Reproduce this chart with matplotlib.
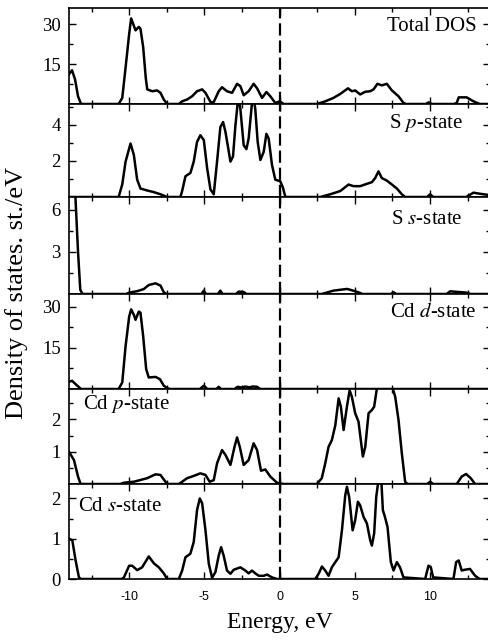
import numpy as np
import matplotlib
matplotlib.use("Agg")
import matplotlib.pyplot as plt
from matplotlib.ticker import FixedLocator, NullFormatter

plt.rcParams['axes.unicode_minus'] = False

# ---------------- data ----------------
e_total = [-14.0, -13.8, -13.6, -13.4, -13.2, -10.7, -10.46, -10.24, -10.0, -9.87,
           -9.7, -9.58, -9.36, -9.25, -9.07, -8.9, -8.8, -8.47, -8.14, -7.92,
           -7.7, -7.48, -6.7, -6.48, -6.15, -5.82, -5.49, -5.15, -4.93, -4.6,
           -4.4, -4.05, -3.83, -3.5, -3.16, -2.83, -2.61, -2.39, -2.06, -1.73,
           -1.5, -1.17, -0.88, -0.62, -0.29, 0.0, 0.27, 2.48, 3.03, 3.58,
           4.03, 4.54, 4.8, 5.02, 5.35, 5.69, 6.02, 6.24, 6.5, 6.79,
           7.12, 7.46, 7.9, 8.23, 8.4, 9.7, 9.9, 10.1, 11.6, 11.77,
           11.9, 12.43, 12.88, 13.3, 14.0]
dos_total = [11.2, 12.7, 9.3, 2.9, 0.0, 0.0, 2.3, 13.7, 26.4, 32.2,
             29.6, 27.7, 29.0, 28.3, 21.4, 9.9, 5.5, 4.8, 5.1, 4.2,
             1.7, 0.0, 0.0, 1.0, 1.7, 2.9, 4.8, 5.5, 4.2, 0.8,
             0.5, 4.8, 6.3, 4.8, 4.2, 7.6, 6.7, 3.3, 4.8, 7.6,
             5.9, 2.3, 4.5, 2.9, 0.4, 1.0, 0.0, 0.0, 1.0, 2.3,
             3.8, 5.9, 4.8, 5.1, 3.6, 4.6, 4.8, 5.5, 7.6, 7.0,
             7.6, 5.1, 2.9, 0.4, 0.0, 0.0, 0.6, 0.0, 0.0, 0.4,
             2.5, 2.5, 1.0, 0.0, 0.0]

e_sp = [-14.0, -10.7, -10.46, -10.24, -9.91, -9.69, -9.47, -9.25, -8.8, -8.36,
        -7.92, -7.48, -6.6, -6.48, -6.26, -5.93, -5.71, -5.49, -5.27, -5.04,
        -4.82, -4.6, -4.38, -4.16, -3.94, -3.76, -3.6, -3.27, -3.1, -2.94,
        -2.79, -2.72, -2.61, -2.39, -2.21, -2.06, -1.84, -1.75, -1.62, -1.46,
        -1.28, -1.06, -0.88, -0.73, -0.51, -0.29, 0.04, 0.22, 0.38, 2.7,
        3.36, 4.03, 4.58, 4.91, 5.35, 5.8, 6.13, 6.35, 6.57, 6.79,
        7.12, 7.46, 7.79, 8.12, 8.34, 9.8, 10.0, 10.2, 12.4, 12.88,
        13.3, 14.0]
dos_sp = [0.0, 0.0, 0.7, 1.96, 2.96, 2.33, 0.96, 0.47, 0.36, 0.27,
          0.15, 0.0, 0.0, 0.33, 1.15, 1.33, 1.96, 3.05, 3.42, 3.15,
          1.6, 0.42, 0.15, 1.96, 3.87, 4.15, 3.6, 1.96, 2.24, 3.96,
          5.2, 5.5, 4.87, 2.87, 2.65, 3.24, 5.2, 5.6, 4.87, 3.05,
          2.05, 2.5, 3.5, 3.24, 1.78, 0.96, 0.87, 0.51, 0.0, 0.0,
          0.15, 0.33, 0.69, 0.6, 0.6, 0.73, 0.82, 1.05, 1.42, 1.05,
          0.91, 0.69, 0.47, 0.15, 0.0, 0.0, 0.15, 0.0, 0.0, 0.24,
          0.18, 0.1]

e_ss = [-14.0, -13.6, -13.4, -13.25, -13.1, -10.2, -10.0, -9.47, -9.03, -8.7,
        -8.25, -7.92, -7.7, -7.5, -5.2, -5.04, -4.9, -4.1, -3.94, -3.8,
        -2.9, -2.72, -2.39, -2.2, 2.8, 3.58, 4.47, 4.69, 5.24, 5.5,
        7.4, 7.57, 7.75, 11.1, 11.33, 12.4, 12.7, 14.0]
dos_ss = [14.0, 7.5, 3.0, 0.3, 0.0, 0.0, 0.1, 0.2, 0.35, 0.64,
          0.76, 0.6, 0.12, 0.0, 0.0, 0.24, 0.0, 0.0, 0.24, 0.0,
          0.0, 0.17, 0.14, 0.0, 0.0, 0.24, 0.36, 0.3, 0.12, 0.0,
          0.0, 0.12, 0.0, 0.0, 0.19, 0.1, 0.0, 0.0]

e_cdd = [-14.0, -13.8, -13.45, -13.2, -10.7, -10.46, -10.24, -10.0, -9.87, -9.69,
         -9.58, -9.36, -9.25, -9.07, -8.87, -8.7, -8.25, -7.96, -7.7, -7.48,
         -7.3, -5.3, -5.04, -4.8, -4.2, -4.05, -3.9, -3.0, -2.8, -2.5,
         -2.3, -2.0, -1.8, -1.5, -1.3, 14.0]
dos_cdd = [2.6, 3.0, 1.2, 0.0, 0.0, 2.4, 15.6, 26.4, 29.0, 27.0,
           25.2, 28.2, 27.8, 19.2, 7.2, 4.2, 4.4, 3.6, 1.2, 0.36,
           0.0, 0.0, 1.2, 0.0, 0.0, 0.8, 0.0, 0.0, 0.8, 0.5,
           0.9, 0.6, 0.9, 0.8, 0.0, 0.0]

e_cdp = [-14.0, -13.67, -13.4, -13.23, -10.6, -10.35, -9.69, -8.8, -8.25, -7.92,
         -7.59, -7.4, -6.7, -6.48, -6.15, -5.71, -5.27, -4.93, -4.65, -4.38,
         -4.16, -3.83, -3.6, -3.27, -3.0, -2.83, -2.65, -2.39, -2.06, -1.73,
         -1.5, -1.24, -0.95, -0.62, -0.18, 0.27, 2.48, 2.8, 3.03, 3.25,
         3.47, 3.7, 3.92, 4.07, 4.25, 4.47, 4.65, 4.8, 5.02, 5.24,
         5.53, 5.69, 5.91, 6.13, 6.28, 6.46, 6.7, 7.0, 7.3, 7.52,
         7.68, 7.9, 8.12, 8.34, 8.5, 9.8, 10.0, 10.2, 11.77, 12.1,
         12.39, 12.7, 12.99, 14.0]
dos_cdp = [1.0, 0.74, 0.23, 0.0, 0.0, 0.04, 0.07, 0.18, 0.3, 0.28,
           0.07, 0.0, 0.0, 0.07, 0.18, 0.25, 0.33, 0.28, 0.07, 0.12,
           0.64, 1.05, 0.9, 0.59, 1.15, 1.44, 1.15, 0.59, 0.74, 1.26,
           1.05, 0.41, 0.45, 0.23, 0.04, 0.0, 0.0, 0.18, 0.64, 1.15,
           1.36, 1.82, 2.65, 2.39, 1.67, 2.39, 2.9, 2.7, 2.19, 1.93,
           0.85, 1.15, 2.19, 2.29, 2.39, 2.95, 3.3, 3.4, 3.2, 2.95,
           2.7, 1.98, 0.95, 0.07, 0.0, 0.0, 0.07, 0.0, 0.0, 0.23,
           0.31, 0.18, 0.0, 0.0]

e_cds = [-14.0, -13.78, -13.56, -13.34, -13.2, -10.5, -10.35, -10.0, -9.8, -9.47,
         -9.14, -8.7, -8.36, -8.03, -7.7, -7.48, -6.7, -6.48, -6.26, -5.93,
         -5.71, -5.49, -5.31, -5.15, -4.93, -4.71, -4.49, -4.27, -4.05, -3.89,
         -3.72, -3.5, -3.27, -3.05, -2.61, -2.28, -2.06, -1.84, -1.62, -1.39,
         -1.06, -0.84, -0.51, -0.18, 2.37, 2.59, 2.81, 3.03, 3.25, 3.47,
         3.7, 3.92, 4.14, 4.36, 4.47, 4.62, 4.85, 5.02, 5.2, 5.35,
         5.58, 5.8, 6.02, 6.13, 6.28, 6.42, 6.6, 6.75, 6.86, 7.0,
         7.17, 7.39, 7.57, 7.79, 8.0, 8.23, 9.67, 9.89, 10.04, 10.2,
         11.55, 11.73, 11.9, 12.1, 12.3, 12.65, 12.99, 13.3, 14.0]
dos_cds = [1.0, 0.96, 0.46, 0.04, 0.0, 0.0, 0.04, 0.33, 0.33, 0.22,
           0.29, 0.56, 0.39, 0.29, 0.14, 0.0, 0.0, 0.21, 0.54, 0.63,
           0.92, 1.71, 2.0, 1.88, 1.21, 0.38, 0.03, 0.17, 0.58, 0.79,
           0.58, 0.21, 0.13, 0.23, 0.29, 0.21, 0.14, 0.21, 0.14, 0.08,
           0.08, 0.11, 0.04, 0.0, 0.0, 0.13, 0.31, 0.21, 0.08, 0.29,
           0.42, 0.54, 1.21, 2.08, 2.29, 2.04, 1.21, 1.46, 1.92, 1.83,
           1.54, 1.38, 0.96, 0.83, 1.13, 2.04, 2.55, 2.5, 1.71, 1.54,
           1.29, 0.42, 0.21, 0.42, 0.29, 0.04, 0.0, 0.33, 0.3, 0.04,
           0.0, 0.42, 0.46, 0.21, 0.23, 0.25, 0.08, 0.0, 0.0]

panel_labels = ["Total DOS", "S $\\it{p}$-state", "S $\\it{s}$-state",
                "Cd $\\it{d}$-state", "Cd $\\it{p}$-state", "Cd $\\it{s}$-state"]
y_major = [[15, 30], [2, 4], [3, 6], [15, 30], [1, 2], [0, 1, 2]]
y_minor = [[7.5, 22.5], [1, 3, 5], [1.5, 4.5], [7.5, 22.5], [0.5, 1.5, 2.5], [0.5, 1.5]]
y_top = [36, 5.15, 6.9, 34.6, 2.94, 2.36]
x_major = [-10, -5, 0, 5, 10]
x_tick_labels = ["-10", "-5", "0", "5", "10"]
x_minor = [-12.5, -7.5, -2.5, 2.5, 7.5, 12.5]
x_label = "Energy, eV"
y_label = "Density of states. st./eV"

series = [(e_total, dos_total), (e_sp, dos_sp), (e_ss, dos_ss),
          (e_cdd, dos_cdd), (e_cdp, dos_cdp), (e_cds, dos_cds)]

# ---------------- layout ----------------
W, H = 488, 641
fig = plt.figure(figsize=(W / 100, H / 100), dpi=100)
edges_px = [8.3, 104, 197, 294, 389, 484, 579]
left_px, right_px = 69, 490.3

label_pos = [(0.968, 0.815, 'right'), (0.934, 0.80, 'right'), (0.934, 0.77, 'right'),
             (0.968, 0.80, 'right'), (0.033, 0.84, 'left'), (0.021, 0.76, 'left')]

serif = ['Liberation Serif', 'DejaVu Serif']
sans = ['Liberation Sans', 'DejaVu Sans']

axes = []
for i in range(6):
    top, bot = edges_px[i], edges_px[i + 1]
    ax = fig.add_axes([left_px / W, 1 - bot / H, (right_px - left_px) / W, (bot - top) / H])
    axes.append(ax)
    e, v = series[i]
    ax.plot(e, v, color='black', lw=1.8, solid_joinstyle='round')
    ax.axvline(0, color='black', lw=1.6, dashes=(5.5, 2.2))
    ax.set_xlim(-14, 14)
    ax.set_ylim(0, y_top[i])
    ax.yaxis.set_major_locator(FixedLocator(y_major[i]))
    ax.yaxis.set_minor_locator(FixedLocator(y_minor[i]))
    ax.xaxis.set_major_locator(FixedLocator(x_major))
    ax.xaxis.set_minor_locator(FixedLocator(x_minor))
    ax.tick_params(which='both', direction='in', top=True, right=True,
                   width=1.0, color='black')
    ax.tick_params(which='major', length=5)
    ax.tick_params(which='minor', length=3)
    ax.tick_params(axis='y', which='major', labelsize=13.5, pad=6)
    for lab in ax.get_yticklabels():
        lab.set_family(serif)
    for sp in ax.spines.values():
        sp.set_linewidth(1.2)
    if i < 5:
        ax.xaxis.set_major_formatter(NullFormatter())
    else:
        ax.set_xticklabels(x_tick_labels, family=sans, fontsize=9)
        ax.tick_params(axis='x', which='major', pad=9)
        ax.set_xlabel(x_label, family=serif, fontsize=17, labelpad=6)
    xp, yp, ha = label_pos[i]
    ax.text(xp, yp, panel_labels[i], transform=ax.transAxes, ha=ha, va='center',
            fontsize=15, family=serif, math_fontfamily='stix')

fig.text(17 / W, 1 - 293 / H, y_label, rotation=90, ha='center', va='center',
         fontsize=19, family=serif)

fig.savefig("out.png", dpi=100)
